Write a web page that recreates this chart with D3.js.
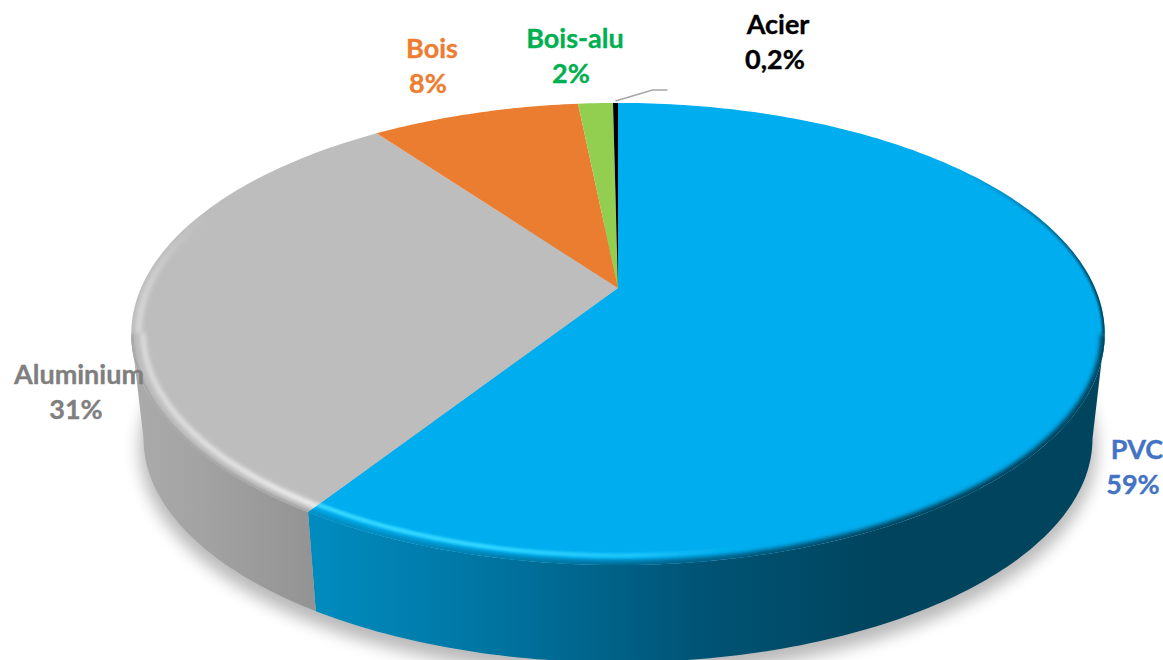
<!DOCTYPE html>
<html><head><meta charset="utf-8">
<script src="https://cdn.jsdelivr.net/npm/d3@7"></script>
<style>html,body{margin:0;padding:0;background:#fff;overflow:hidden}svg{display:block}
text{font-family:Lato,"Open Sans",sans-serif;font-weight:700}</style></head><body>
<script>
const categories = ["PVC","Aluminium","Bois","Bois-alu","Acier"];
const values = [59.1,30.9,8.4,1.4,0.2];
const percentLabels = ["59%","31%","8%","2%","0,2%"];
const sliceColors = ["#00ADEF","#BDBDBD","#EA7D30","#92CF50","#000000"];
const labelColors = ["#4472C4","#7F7F7F","#ED7D31","#00B050","#000000"];
const nameCenters = [[1137,450],[79,375],[432,49],[575,39],[778,25]];
const percentCentersX = [1133,76,428,571,775];

const W=1163,H=660,cx=618,k=0.199;
const svg=d3.select("body").append("svg").attr("width",W).attr("height",H);
const defs=svg.append("defs");
const blur=(id,s)=>defs.append("filter").attr("id",id).attr("filterUnits","userSpaceOnUse")
  .attr("x",0).attr("y",0).attr("width",W).attr("height",H+40)
  .append("feGaussianBlur").attr("stdDeviation",s);
blur("b8",8);blur("b2",2);blur("b1",1.2);
const grad=(id,stops)=>{const g=defs.append("linearGradient").attr("id",id).attr("gradientUnits","userSpaceOnUse")
  .attr("x1",0).attr("x2",W).attr("y1",0).attr("y2",0);
  stops.forEach(([x,c,o])=>g.append("stop").attr("offset",x/W).attr("stop-color",c).attr("stop-opacity",o===undefined?1:o));};
grad("wallBlue",[[309,"#008cc0"],[480,"#0076a3"],[700,"#005475"],[880,"#00445e"],[1105,"#00445e"]]);
grad("wallGray",[[131,"#ababab"],[200,"#a3a3a3"],[315,"#939393"]]);
grad("edgeBlue",[[309,"#0090c4"],[480,"#0080b0"],[700,"#005f85"],[900,"#00425c"],[1105,"#00425c"]]);
grad("edgeBlueUp",[[960,"#00425c",0],[1060,"#00425c",.6],[1105,"#00425c",1]]);
grad("glowBlue",[[309,"#35d8ff"],[480,"#30d6ff"],[640,"#22c8fc",.85],[780,"#00adef",0],[1105,"#00adef",0]]);
grad("glowGray",[[131,"#dedede"],[200,"#e4e4e4"],[315,"#f6f6f6"]]);
grad("glowGrayUp",[[131,"#dedede",1],[165,"#d6d6d6",.5],[210,"#cccccc",0]]);

const pie=d3.pie().sort(null).value(d=>d)(values);
// projected circle: a = clockwise angle from 12 o'clock
const proj=(A,B,y0)=>(a,r=1)=>{const u=r*Math.sin(a),v=-r*Math.cos(a),w=1-k*v;return [cx+A*u/w,y0+B*v/w];};
const topFace=proj(477,221.9,288), botFace=proj(465,215,394);
const samples=(a0,a1,f,r=1)=>{const n=Math.max(2,Math.ceil(Math.abs(a1-a0)*60));
  return d3.range(n+1).map(i=>f(a0+(a1-a0)*i/n,r));};
const line=d3.line();
const rightA=Math.acos(-k), leftA=2*Math.PI-rightA;

// shadow
svg.append("path").attr("d",line(samples(0,2*Math.PI,(a)=>{const p=botFace(a);return [p[0],p[1]+9];}))+"Z")
  .attr("fill","#000").attr("stroke","#000").attr("stroke-width",8).attr("opacity",.27).attr("filter","url(#b8)");

// walls
const wall=(a0,a1,fill)=>svg.append("path").attr("fill",fill)
  .attr("d",line(samples(a0,a1,topFace).concat(samples(a0,a1,botFace).reverse()))+"Z");
wall(rightA,pie[0].endAngle,"url(#wallBlue)");
wall(pie[1].startAngle,leftA,"url(#wallGray)");

// top face
const sliceClip=(id,d)=>defs.append("clipPath").attr("id",id).append("path")
  .attr("d",line([topFace(0,0),...samples(d.startAngle,d.endAngle,topFace)])+"Z");
sliceClip("clipBlue",pie[0]);sliceClip("clipGray",pie[1]);
svg.append("g").selectAll("path").data(pie).join("path")
  .attr("fill",(d,i)=>sliceColors[i])
  .attr("d",d=>line([topFace(0,0),...samples(d.startAngle,d.endAngle,topFace)])+"Z");

// bevel along the rim
const rimIn=(clip)=>svg.append("g").attr("clip-path",`url(#${clip})`);
const rimBlue=rimIn("clipBlue"),rimGray=rimIn("clipGray");
const rim=(g,a0,a1,stroke,r,w,f)=>g.append("path").attr("fill","none").attr("stroke",stroke).attr("stroke-width",w)
  .attr("filter",`url(#${f})`).attr("d",line(samples(a0,a1,topFace,r)));
rim(rimBlue,0.9,rightA,"url(#edgeBlueUp)",1.0,5,"b1");
rim(rimBlue,rightA,pie[0].endAngle+.05,"url(#edgeBlue)",1.0,9,"b2");
rim(rimBlue,rightA+.3,pie[0].endAngle+.05,"url(#glowBlue)",0.972,4.5,"b1");
rim(rimGray,pie[1].startAngle-.05,leftA,"#a6a6a6",1.0,5,"b1");
rim(rimGray,pie[1].startAngle-.05,leftA,"url(#glowGray)",0.977,5,"b2");
rim(rimGray,leftA,leftA+0.55,"url(#glowGrayUp)",0.985,6,"b2");

// leader line for the smallest slice
const acier=pie[4],tip=topFace((acier.startAngle+acier.endAngle)/2);
svg.append("path").attr("fill","none").attr("stroke","#a6a6a6").attr("stroke-width",1.6)
  .attr("d",line([[tip[0],tip[1]-2],[tip[0]+37,tip[1]-13],[tip[0]+52,tip[1]-13]]));

// labels
const labels=svg.append("g").attr("text-anchor","middle").attr("font-size",27);
categories.forEach((c,i)=>{
  const [x,y]=nameCenters[i];
  const t=labels.append("text").attr("fill",labelColors[i]).attr("stroke",labelColors[i]).attr("stroke-width",.35).attr("x",x).attr("y",y+9);
  t.append("tspan").attr("x",x).text(c);
  t.append("tspan").attr("x",percentCentersX[i]).attr("dy",35).text(percentLabels[i]);
});
</script></body></html>
